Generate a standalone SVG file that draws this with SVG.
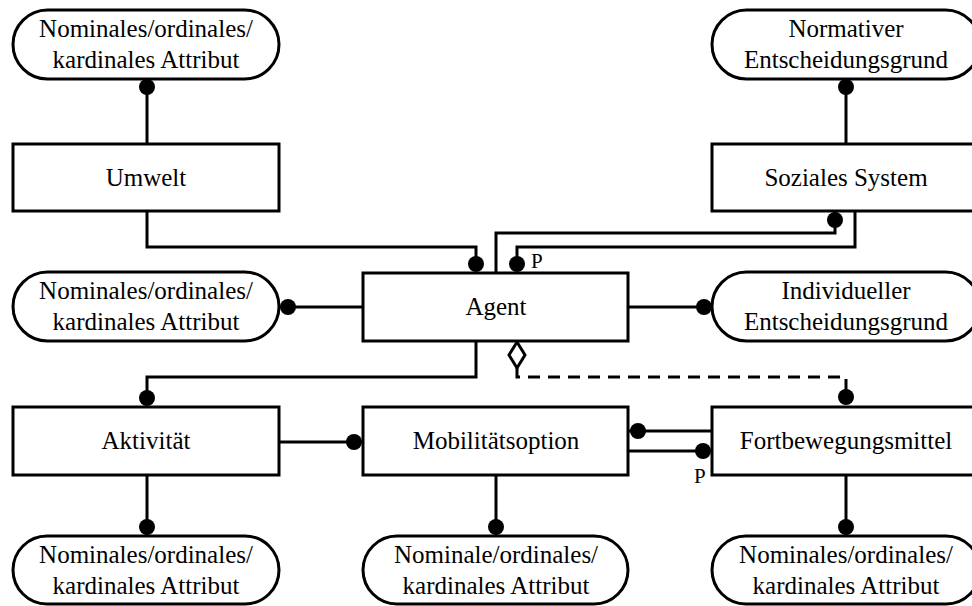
<svg xmlns="http://www.w3.org/2000/svg" width="972" height="606" viewBox="0 0 972 606">
  <style>
    .box { fill: #fff; stroke: #000; stroke-width: 3; }
    .line { fill: none; stroke: #000; stroke-width: 3; }
    .dash { fill: none; stroke: #000; stroke-width: 3; stroke-dasharray: 12 8; }
    .dot { fill: #000; }
    .lbl { font-family: "Liberation Serif", "Times New Roman", serif; font-size: 25px; fill: #000; text-anchor: middle; }
    .p { font-family: "Liberation Serif", "Times New Roman", serif; font-size: 21px; fill: #000; }
  </style>

  <!-- connectors -->
  <g id="connectors">
    <path class="line" d="M147,79 V144"/>
    <path class="line" d="M846,79 V144"/>
    <path class="line" d="M147,211 V247 H476 V264"/>
    <path class="line" d="M835,211 V233 H496 V273"/>
    <path class="line" d="M855,211 V247 H517 V264"/>
    <path class="line" d="M279,307 H363"/>
    <path class="line" d="M628,307 H712"/>
    <path class="line" d="M476,341 V377 H147 V398"/>
    <path class="dash" d="M517,368 V377 H846 V397"/>
    <path class="line" d="M279,442 H363"/>
    <path class="line" d="M628,431 H712"/>
    <path class="line" d="M628,451 H712"/>
    <path class="line" d="M147,475 V536"/>
    <path class="line" d="M496,475 V536"/>
    <path class="line" d="M846,475 V536"/>
    <!-- aggregation diamond -->
    <path class="box" d="M517,342 L525,355 L517,368 L509,355 Z"/>
    <!-- end dots -->
    <circle class="dot" cx="147" cy="87" r="8"/>
    <circle class="dot" cx="846" cy="87" r="8"/>
    <circle class="dot" cx="835" cy="220" r="8"/>
    <circle class="dot" cx="476" cy="264" r="8"/>
    <circle class="dot" cx="517" cy="264" r="8"/>
    <circle class="dot" cx="288" cy="307" r="8"/>
    <circle class="dot" cx="704" cy="307" r="8"/>
    <circle class="dot" cx="147" cy="398" r="8"/>
    <circle class="dot" cx="846" cy="397" r="8"/>
    <circle class="dot" cx="354" cy="442" r="8"/>
    <circle class="dot" cx="638" cy="431" r="8"/>
    <circle class="dot" cx="703" cy="451" r="8"/>
    <circle class="dot" cx="147" cy="527" r="8"/>
    <circle class="dot" cx="496" cy="527" r="8"/>
    <circle class="dot" cx="846" cy="527" r="8"/>
    <text class="p" x="531" y="268">P</text>
    <text class="p" x="694" y="483">P</text>
  </g>

  <!-- nodes -->
  <g id="attr-umwelt">
    <rect class="box" x="13" y="10" width="266" height="69" rx="34.5"/>
    <text class="lbl" x="146" y="37">Nominales/ordinales/</text>
    <text class="lbl" x="146" y="68">kardinales Attribut</text>
  </g>
  <g id="normativ">
    <rect class="box" x="712" y="10" width="268" height="69" rx="34.5"/>
    <text class="lbl" x="846" y="37">Normativer</text>
    <text class="lbl" x="846" y="68">Entscheidungsgrund</text>
  </g>
  <g id="umwelt">
    <rect class="box" x="13" y="144" width="266" height="67"/>
    <text class="lbl" x="146" y="186">Umwelt</text>
  </g>
  <g id="soziales-system">
    <rect class="box" x="712" y="144" width="268" height="67"/>
    <text class="lbl" x="846" y="186">Soziales System</text>
  </g>
  <g id="attr-agent">
    <rect class="box" x="13" y="272" width="266" height="69" rx="34.5"/>
    <text class="lbl" x="146" y="299">Nominales/ordinales/</text>
    <text class="lbl" x="146" y="330">kardinales Attribut</text>
  </g>
  <g id="agent">
    <rect class="box" x="363" y="273" width="265" height="68"/>
    <text class="lbl" x="496" y="315">Agent</text>
  </g>
  <g id="individuell">
    <rect class="box" x="712" y="272" width="268" height="69" rx="34.5"/>
    <text class="lbl" x="846" y="299">Individueller</text>
    <text class="lbl" x="846" y="330">Entscheidungsgrund</text>
  </g>
  <g id="aktivitaet">
    <rect class="box" x="13" y="407" width="266" height="68"/>
    <text class="lbl" x="146" y="449">Aktivität</text>
  </g>
  <g id="mobilitaetsoption">
    <rect class="box" x="363" y="407" width="265" height="68"/>
    <text class="lbl" x="496" y="449">Mobilitätsoption</text>
  </g>
  <g id="fortbewegungsmittel">
    <rect class="box" x="712" y="407" width="268" height="68"/>
    <text class="lbl" x="846" y="449">Fortbewegungsmittel</text>
  </g>
  <g id="attr-aktivitaet">
    <rect class="box" x="13" y="536" width="266" height="68" rx="34"/>
    <text class="lbl" x="146" y="563">Nominales/ordinales/</text>
    <text class="lbl" x="146" y="594">kardinales Attribut</text>
  </g>
  <g id="attr-mobilitaet">
    <rect class="box" x="363" y="536" width="265" height="68" rx="34"/>
    <text class="lbl" x="496" y="563">Nominale/ordinales/</text>
    <text class="lbl" x="496" y="594">kardinales Attribut</text>
  </g>
  <g id="attr-fortbewegung">
    <rect class="box" x="712" y="536" width="268" height="68" rx="34"/>
    <text class="lbl" x="846" y="563">Nominales/ordinales/</text>
    <text class="lbl" x="846" y="594">kardinales Attribut</text>
  </g>
</svg>
